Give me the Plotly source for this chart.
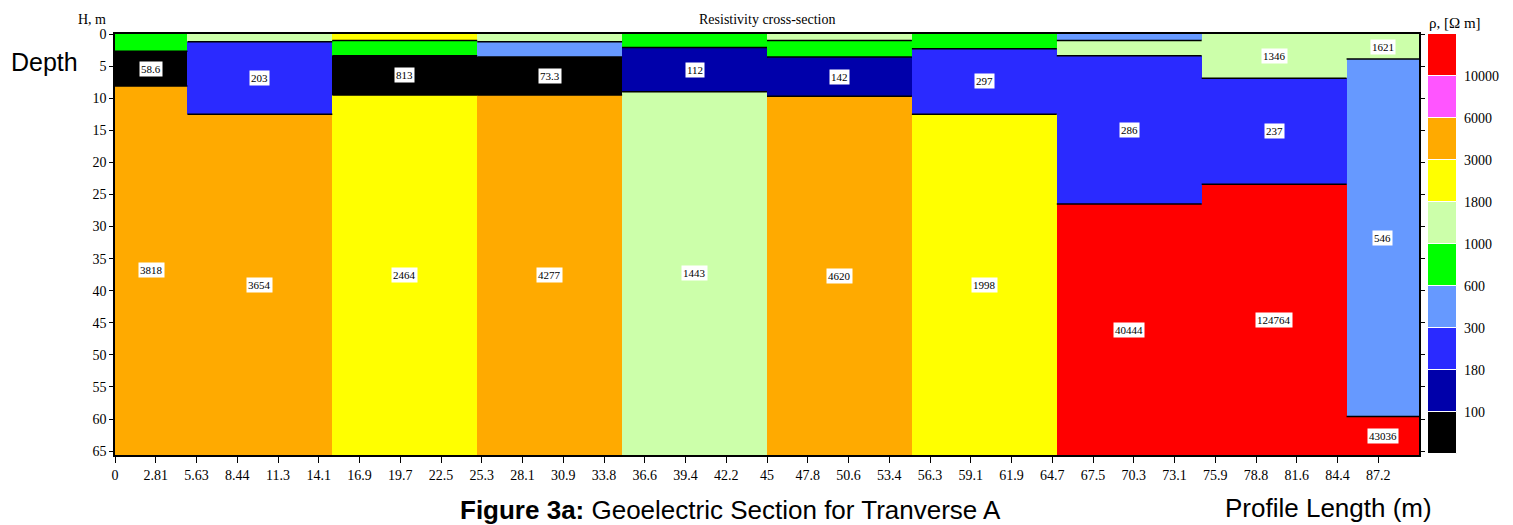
import plotly.graph_objects as go

# ---------------- data ----------------
col_left = [0, 5, 15, 25, 35, 45, 55, 65, 75, 85]
col_right = [5, 15, 25, 35, 45, 55, 65, 75, 85, 90]
max_depth = 65.6

# depths of layer bottoms (interfaces) per column
interfaces = [
    [2.7, 8.1],
    [1.2, 12.5],
    [1.0, 3.4, 9.5],
    [1.2, 3.6, 9.5],
    [2.1, 9.0],
    [1.0, 3.6, 9.7],
    [2.3, 12.5],
    [1.0, 3.4, 26.5],
    [6.9, 23.4],
    [3.9, 59.6],
]
# resistivity class index of each layer (0 = <100 ... 9 = >10000)
layer_class = [
    [4, 0, 7],
    [5, 2, 7],
    [6, 4, 0, 6],
    [5, 3, 0, 7],
    [4, 1, 5],
    [5, 4, 1, 7],
    [4, 2, 6],
    [3, 5, 2, 9],
    [5, 2, 9],
    [5, 3, 9],
]
layer_labels = [
    ["", "58.6", "3818"],
    ["", "203", "3654"],
    ["", "", "813", "2464"],
    ["", "", "73.3", "4277"],
    ["", "112", "1443"],
    ["", "", "142", "4620"],
    ["", "297", "1998"],
    ["", "", "286", "40444"],
    ["1346", "237", "124764"],
    ["1621", "546", "43036"],
]

class_colors = ["#000000", "#0000AA", "#2A2AFF", "#6699FF", "#00FF00",
                "#CCFFAA", "#FFFF00", "#FFAA00", "#FF55FF", "#FF0000"]
class_bounds = ["100", "180", "300", "600", "1000", "1800", "3000", "6000", "10000"]

x_tick_vals = [i * 90 / 32 for i in range(32)]
x_tick_text = ["0", "2.81", "5.63", "8.44", "11.3", "14.1", "16.9", "19.7", "22.5",
               "25.3", "28.1", "30.9", "33.8", "36.6", "39.4", "42.2", "45", "47.8",
               "50.6", "53.4", "56.3", "59.1", "61.9", "64.7", "67.5", "70.3", "73.1",
               "75.9", "78.8", "81.6", "84.4", "87.2"]
y_tick_vals = list(range(0, 70, 5))

# ---------------- build ----------------
W, H = 1513, 525
ml, mr, mt, mb = 115, 40, 34, 70
pw = W - ml - mr
ph = H - mt - mb

def px_to_xpaper(px):
    return (px - ml) / pw

def px_to_ypaper(py):
    return 1 - (py - mt) / ph

serif = "Liberation Serif, Times New Roman, serif"
sans = "Arial, Liberation Sans, sans-serif"

bx, bw, bbase, bh, bc = [], [], [], [], []
lx, ly = [], []
annotations = []
for i in range(len(col_left)):
    tops = [0] + interfaces[i]
    bots = interfaces[i] + [max_depth]
    xc = (col_left[i] + col_right[i]) / 2
    for t, b, c, lab in zip(tops, bots, layer_class[i], layer_labels[i]):
        bx.append(xc)
        bw.append(col_right[i] - col_left[i])
        bbase.append(t)
        bh.append(b - t)
        bc.append(class_colors[c])
        if lab:
            annotations.append(dict(
                x=xc, y=(t + b) / 2, xref="x", yref="y", text=lab, showarrow=False,
                xanchor="center", yanchor="middle",
                font=dict(family=serif, size=11, color="black"),
                bgcolor="white", borderpad=1))
    for d in interfaces[i]:
        lx += [col_left[i], col_right[i], None]
        ly += [d, d, None]

fig = go.Figure()
fig.add_trace(go.Bar(x=bx, y=bh, base=bbase, width=bw, marker=dict(color=bc, line=dict(width=0)),
                     hoverinfo="skip", showlegend=False))
fig.add_trace(go.Scatter(x=lx, y=ly, mode="lines", line=dict(color="black", width=1.5),
                         hoverinfo="skip", showlegend=False))

# legend color bar
nb = len(class_colors)
fig.add_trace(go.Bar(x=[0.5] * nb, y=[1] * nb, base=list(range(nb)), width=[1] * nb,
                     marker=dict(color=class_colors, line=dict(color="white", width=1)),
                     xaxis="x2", yaxis="y2", hoverinfo="skip", showlegend=False))
for k, lab in enumerate(class_bounds):
    annotations.append(dict(x=1, y=k + 1, xref="x2", yref="y2", text=lab, showarrow=False,
                            xanchor="left", yanchor="middle", xshift=5,
                            font=dict(family=serif, size=14, color="black")))

def txt(px, py, text, font):
    return dict(x=px_to_xpaper(px), y=px_to_ypaper(py), xref="paper", yref="paper",
                text=text, showarrow=False, xanchor="center", yanchor="middle", font=font)

# texts
annotations += [
    txt(767, 19, "Resistivity cross-section", dict(family=serif, size=14, color="black")),
    txt(92, 20, "H, m", dict(family=serif, size=14, color="black")),
    txt(1455, 23, "ρ, [Ω m]", dict(family=serif, size=15, color="black")),
    txt(44, 62, "Depth", dict(family=sans, size=25, color="black")),
    txt(730, 510, "<b>Figure 3a:</b> Geoelectric Section for Tranverse A",
        dict(family=sans, size=26, color="black")),
    txt(1328, 508, "Profile Length (m)", dict(family=sans, size=26, color="black")),
]

fig.update_layout(
    width=W, height=H,
    margin=dict(l=ml, r=mr, t=mt, b=mb, pad=0),
    paper_bgcolor="white", plot_bgcolor="white",
    barmode="overlay", bargap=0,
    showlegend=False,
    xaxis=dict(domain=[0, px_to_xpaper(1419)], range=[0, 90], tickvals=x_tick_vals,
               ticktext=x_tick_text, ticks="outside", ticklen=6, tickcolor="black",
               showline=True, linecolor="black", linewidth=2, mirror=True,
               showgrid=False, zeroline=False,
               tickfont=dict(family=serif, size=14, color="black")),
    yaxis=dict(range=[max_depth, 0], tickvals=y_tick_vals, ticks="outside", ticklen=4,
               tickcolor="black", showline=True, linecolor="black", linewidth=1.5,
               mirror="ticks", showgrid=False, zeroline=False,
               tickfont=dict(family=serif, size=14, color="black")),
    xaxis2=dict(domain=[px_to_xpaper(1428), px_to_xpaper(1457)], range=[0, 1],
                anchor="y2", visible=False, fixedrange=True),
    yaxis2=dict(domain=[px_to_ypaper(454), 1], range=[0, nb], anchor="x2",
                visible=False, fixedrange=True),
    annotations=annotations,
)

fig.write_html("out.html", config={"displayModeBar": False},
               post_script="document.body.style.margin='0';document.body.style.overflow='hidden';")
